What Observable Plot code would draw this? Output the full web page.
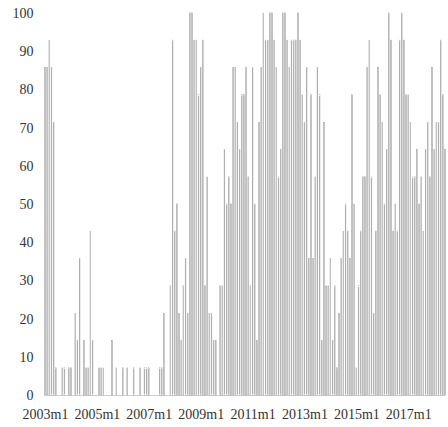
<!DOCTYPE html>
<html><head><meta charset="utf-8">
<script src="https://cdn.jsdelivr.net/npm/d3@7"></script>
<script src="https://cdn.jsdelivr.net/npm/@observablehq/plot@0.6"></script>
<style>
body{margin:0;background:#fff;}
svg, svg text { font-family: "Liberation Serif", "Times New Roman", serif !important; }
</style>
</head><body><div id="chart"></div>
<script>
// Monthly series starting 2003m1 (values in %)
const startYear = 2003;
const values2003_2007 = [
  85.7, 85.7, 92.9, 85.7, 71.4, 7.1, 0, 0, 7.1, 7.1, 0, 7.1,
  7.1, 0, 21.4, 14.3, 35.7, 0, 14.3, 7.1, 7.1, 42.9, 14.3, 0,
  0, 7.1, 7.1, 7.1, 0, 0, 0, 14.3, 0, 7.1, 0, 0,
  7.1, 0, 7.1, 0, 0, 7.1, 0, 0, 7.1, 0, 7.1, 7.1,
  7.1, 0, 0, 0, 0, 7.1, 7.1, 21.4, 0, 0, 28.6, 92.9
];
const values2008_2010 = [
  42.9, 50, 21.4, 14.3, 28.6, 35.7, 21.4, 100, 100, 92.9, 92.9, 78.6,
  85.7, 92.9, 28.6, 57.1, 21.4, 21.4, 14.3, 14.3, 0, 28.6, 28.6, 64.3,
  50, 57.1, 50, 85.7, 85.7, 71.4, 64.3, 78.6
];
const values2010_2013 = [
  78.6, 85.7, 57.1, 28.6, 85.7, 50, 14.3, 71.4, 85.7, 100, 92.9, 92.9,
  100, 100, 92.9, 85.7, 57.1, 64.3, 100, 100, 92.9, 85.7, 92.9, 92.9,
  92.9, 100, 92.9, 78.6, 71.4
];
const values2013_2015 = [
  85.7, 35.7, 78.6, 35.7, 57.1, 85.7, 78.6, 14.3, 71.4, 28.6, 28.6, 35.7,
  14.3, 28.6, 7.1, 21.4, 35.7, 42.9, 50, 42.9, 35.7, 78.6, 50, 7.1,
  28.6, 42.9, 57.1, 57.1, 85.7, 92.9, 57.1, 21.4, 42.9
];
const values2015_2018 = [
  85.7, 78.6, 71.4, 50, 64.3, 100, 92.9, 42.9, 50, 42.9, 92.9, 100,
  92.9, 78.6, 78.6, 71.4, 57.1, 57.1, 64.3, 50, 57.1, 42.9, 64.3, 71.4,
  57.1, 85.7, 64.3, 71.4, 71.4, 92.9, 78.6, 64.3
];
const values = [].concat(values2003_2007, values2008_2010, values2010_2013, values2013_2015, values2015_2018);
const months = values.map((_, i) => `${startYear + Math.floor(i / 12)}m${(i % 12) + 1}`);
const tickLabels = ["2003m1", "2005m1", "2007m1", "2009m1", "2011m1", "2013m1", "2015m1", "2017m1"];
const yTicks = [0, 10, 20, 30, 40, 50, 60, 70, 80, 90, 100];

const tickIdx = tickLabels.map(l => months.indexOf(l));
const data = values.map((v, i) => ({i, v, month: months[i]}));

const chart = Plot.plot({
  width: 448, height: 427,
  marginLeft: 45, marginRight: 3, marginTop: 13, marginBottom: 32,
  style: {fontFamily: "Liberation Serif", fontSize: "14px", color: "#333", background: "#fff"},
  x: {type: "linear", domain: [0, values.length - 1]},
  y: {domain: [0, 100]},
  marks: [
    Plot.ruleY([0], {stroke: "#cfcfcf", strokeWidth: 1}),
    Plot.rectY(data, {x1: d => d.i - 0.14, x2: d => d.i + 0.14, y1: 0, y2: "v",
      fill: "white", stroke: "#909090", strokeWidth: 0.55}),
    Plot.axisX({ticks: tickIdx, tickFormat: d => tickLabels[tickIdx.indexOf(d)],
      tickSize: 0, tickPadding: 14, fontSize: 14, label: null}),
    Plot.axisY({ticks: yTicks, tickSize: 0, tickPadding: 12, fontSize: 14, label: null})
  ]
});
document.getElementById("chart").appendChild(chart);
</script>
</body></html>
